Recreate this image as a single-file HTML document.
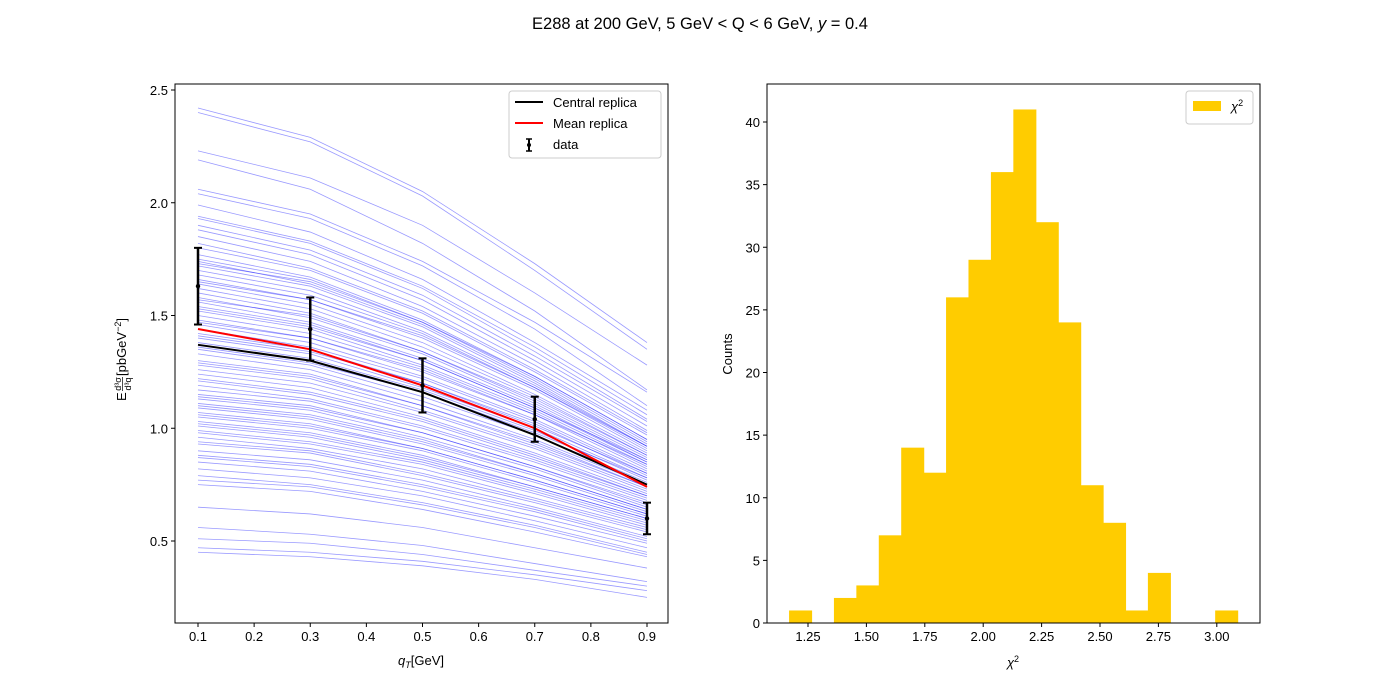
<!DOCTYPE html>
<html><head><meta charset="utf-8"><style>
html,body{margin:0;padding:0;background:#fff}
svg{display:block;font-family:"Liberation Sans","DejaVu Sans",sans-serif}
</style></head><body>
<svg id="fig" width="1400" height="700" viewBox="0 0 1400 700">
<rect width="1400" height="700" fill="#fff"/>
<text x="700" y="29" text-anchor="middle" font-size="16.5">E288  at 200 GeV, 5 GeV &lt; Q &lt; 6 GeV, <tspan font-style="italic">y</tspan> = 0.4</text>
<g id="left"></g>
<g id="right"></g>
</svg>
<script>
const qT = [0.1, 0.3, 0.5, 0.7, 0.9];
const replicas = [
[2.42,2.29,2.05,1.73,1.38],[2.40,2.27,2.03,1.70,1.35],[2.23,2.11,1.90,1.60,1.28],[2.19,2.06,1.82,1.52,1.17],
[2.06,1.95,1.74,1.47,1.16],[2.04,1.93,1.72,1.44,1.10],[1.99,1.87,1.66,1.38,1.08],[1.94,1.83,1.63,1.36,1.06],
[1.93,1.82,1.62,1.34,1.04],[1.90,1.79,1.59,1.32,1.03],[1.88,1.77,1.57,1.30,1.01],[1.85,1.74,1.54,1.28,0.99],
[1.82,1.71,1.52,1.26,0.98],[1.80,1.70,1.51,1.25,0.97],[1.77,1.67,1.48,1.23,0.95],[1.75,1.66,1.47,1.22,0.94],
[1.74,1.64,1.46,1.21,0.93],[1.72,1.63,1.45,1.20,0.92],[1.70,1.61,1.43,1.19,0.92],[1.68,1.59,1.42,1.18,0.91],
[1.66,1.57,1.40,1.17,0.90],[1.64,1.55,1.38,1.15,0.89],[1.62,1.53,1.36,1.14,0.88],[1.60,1.51,1.34,1.12,0.87],
[1.58,1.49,1.33,1.11,0.86],[1.56,1.47,1.31,1.10,0.85],[1.54,1.46,1.30,1.09,0.85],[1.52,1.44,1.28,1.08,0.84],
[1.50,1.42,1.27,1.07,0.83],[1.48,1.40,1.25,1.06,0.82],[1.46,1.38,1.23,1.04,0.81],[1.44,1.36,1.22,1.03,0.80],
[1.42,1.35,1.20,1.02,0.79],[1.40,1.33,1.18,1.00,0.78],[1.38,1.31,1.17,0.99,0.77],[1.35,1.28,1.14,0.97,0.76],
[1.33,1.26,1.12,0.95,0.75],[1.30,1.24,1.10,0.94,0.74],[1.28,1.22,1.08,0.92,0.73],[1.26,1.20,1.07,0.91,0.72],
[1.24,1.18,1.05,0.89,0.71],[1.21,1.15,1.03,0.87,0.70],[1.19,1.13,1.01,0.86,0.69],[1.17,1.12,1.00,0.85,0.68],
[1.15,1.10,0.98,0.83,0.66],[1.13,1.08,0.96,0.82,0.65],[1.11,1.06,0.95,0.80,0.64],[1.09,1.04,0.93,0.79,0.63],
[1.07,1.02,0.91,0.77,0.62],[1.05,1.00,0.90,0.76,0.61],[1.03,0.98,0.88,0.74,0.60],[1.01,0.96,0.86,0.73,0.59],
[0.98,0.93,0.84,0.71,0.57],[0.96,0.91,0.82,0.69,0.56],[0.93,0.89,0.79,0.67,0.54],[0.90,0.86,0.77,0.65,0.52],
[0.87,0.83,0.74,0.63,0.50],[0.85,0.81,0.72,0.61,0.49],[0.82,0.78,0.70,0.59,0.47],[0.79,0.75,0.67,0.57,0.45],
[0.77,0.74,0.66,0.56,0.44],[0.75,0.72,0.64,0.54,0.43],[0.65,0.62,0.56,0.47,0.38],[0.56,0.53,0.48,0.40,0.32],
[0.51,0.49,0.44,0.37,0.30],[0.47,0.45,0.41,0.35,0.28],[0.45,0.43,0.39,0.33,0.25],
[1.73,1.65,1.47,1.23,0.95],[1.65,1.57,1.41,1.18,0.92],[1.57,1.50,1.34,1.13,0.88],[1.53,1.45,1.30,1.09,0.86],
[1.47,1.40,1.26,1.06,0.84],[1.41,1.34,1.20,1.01,0.80],[1.36,1.29,1.16,0.98,0.78],[1.29,1.23,1.10,0.93,0.74],
[1.22,1.16,1.04,0.88,0.70],[1.14,1.09,0.98,0.83,0.67],[1.10,1.05,0.94,0.80,0.64],[1.06,1.01,0.91,0.77,0.62],
[1.02,0.97,0.87,0.74,0.60],[0.99,0.94,0.85,0.72,0.58],[0.94,0.90,0.80,0.68,0.55],[0.88,0.84,0.75,0.64,0.51]
];
const centralReplica = [1.37,1.30,1.16,0.97,0.75];
const meanReplica = [1.44,1.35,1.19,1.00,0.74];
const dataValues = [1.63,1.44,1.19,1.04,0.60];
const dataErrors = [0.17,0.14,0.12,0.10,0.07];
const leftXTicks = [0.1,0.2,0.3,0.4,0.5,0.6,0.7,0.8,0.9];
const leftYTicks = [0.5,1.0,1.5,2.0,2.5];
const binEdges = [1.169,1.265,1.361,1.457,1.553,1.649,1.745,1.841,1.937,2.033,2.129,2.225,2.321,2.417,2.513,2.609,2.705,2.801,2.897,2.993,3.089];
const binCounts = [1,0,2,3,7,14,12,26,29,36,41,32,24,11,8,1,4,0,0,1];
const rightXTicks = [1.25,1.50,1.75,2.00,2.25,2.50,2.75,3.00];
const rightYTicks = [0,5,10,15,20,25,30,35,40];

const NS='http://www.w3.org/2000/svg';
function mk(tag,attrs,parent){const e=document.createElementNS(NS,tag);for(const k in attrs)e.setAttribute(k,attrs[k]);parent.appendChild(e);return e;}

const L=document.getElementById('left');
const lx=v=>198+(v-0.1)*561.25;
const ly=v=>541-(v-0.5)*225.5;
const lclip=mk('clipPath',{id:'lclip'},L);mk('rect',{x:175,y:84,width:493,height:539},lclip);
const lines=mk('g',{'clip-path':'url(#lclip)'},L);
replicas.forEach((r)=>{
  const p=mk('polyline',{points:r.map((v,i)=>lx(qT[i])+','+ly(v)).join(' '),fill:'none',stroke:'#0000ff','stroke-opacity':0.4,'stroke-width':0.8},lines);
  
  
});
const cen=mk('polyline',{points:centralReplica.map((v,i)=>lx(qT[i])+','+ly(v)).join(' '),fill:'none',stroke:'#000','stroke-width':2},lines);


const mean=mk('polyline',{points:meanReplica.map((v,i)=>lx(qT[i])+','+ly(v)).join(' '),fill:'none',stroke:'#f00','stroke-width':2},lines);


dataValues.forEach((v,i)=>{
  const g=mk('g',{},lines);
  
  
  const x=lx(qT[i]),y1=ly(v+dataErrors[i]),y2=ly(v-dataErrors[i]);
  mk('line',{x1:x,x2:x,y1:y1,y2:y2,stroke:'#000','stroke-width':2.5},g);
  mk('line',{x1:x-4,x2:x+4,y1:y1,y2:y1,stroke:'#000','stroke-width':2},g);
  mk('line',{x1:x-4,x2:x+4,y1:y2,y2:y2,stroke:'#000','stroke-width':2},g);
  mk('circle',{cx:x,cy:ly(v),r:2.2,fill:'#000'},g);
});
mk('rect',{x:175,y:84,width:493,height:539,fill:'none',stroke:'#000','stroke-width':1},L);
leftXTicks.forEach(t=>{const x=lx(t);mk('line',{x1:x,x2:x,y1:623,y2:627,stroke:'#000'},L);
  const tx=mk('text',{x:x,y:641,'text-anchor':'middle','font-size':13},L);tx.textContent=t.toFixed(1);
  });
leftYTicks.forEach(t=>{const y=ly(t);mk('line',{x1:171,x2:175,y1:y,y2:y,stroke:'#000'},L);
  const tx=mk('text',{x:168,y:y+5,'text-anchor':'end','font-size':13},L);tx.textContent=t.toFixed(1);
  });
const xl=mk('text',{x:421,y:665,'text-anchor':'middle','font-size':13},L);
xl.innerHTML='<tspan font-style="italic">q</tspan><tspan font-size="9" dy="3" font-style="italic">T</tspan><tspan dy="-3">[GeV]</tspan>';

const yg=mk('g',{transform:'translate(126,353) rotate(-90)'},L);

const e1=mk('text',{x:-48,y:0,'font-size':13},yg);e1.textContent='E';
const e2=mk('text',{x:-31,y:-5,'font-size':9,'text-anchor':'middle'},yg);e2.textContent='d³σ';
mk('line',{x1:-38,x2:-24,y1:-3.5,y2:-3.5,stroke:'#000','stroke-width':0.7},yg);
const e3=mk('text',{x:-31,y:5,'font-size':9,'text-anchor':'middle'},yg);e3.textContent='d³q';
const e4=mk('text',{x:-23,y:0,'font-size':13},yg);e4.innerHTML='[pbGeV<tspan font-size="9" dy="-5">−2</tspan><tspan dy="5">]</tspan>';
const lg=mk('g',{},L);
mk('rect',{x:509,y:91,width:152,height:67,rx:3,fill:'#fff','fill-opacity':0.8,stroke:'#ccc'},lg);
mk('line',{x1:515,x2:543,y1:102,y2:102,stroke:'#000','stroke-width':2},lg);
mk('line',{x1:515,x2:543,y1:123,y2:123,stroke:'#f00','stroke-width':2},lg);
mk('line',{x1:529,x2:529,y1:139,y2:151,stroke:'#000','stroke-width':2},lg);
mk('line',{x1:526,x2:532,y1:139,y2:139,stroke:'#000','stroke-width':1.5},lg);
mk('line',{x1:526,x2:532,y1:151,y2:151,stroke:'#000','stroke-width':1.5},lg);
mk('circle',{cx:529,cy:145,r:2,fill:'#000'},lg);
[['Central replica',107],['Mean replica',128],['data',149]].forEach(([t,y])=>{const e=mk('text',{x:553,y:y,'font-size':13},lg);e.textContent=t;});

const R=document.getElementById('right');
const rx=v=>808+(v-1.25)*233.6;
const ry=v=>623-v*12.525;
binCounts.forEach((c,i)=>{if(!c)return;
  const b=mk('rect',{x:rx(binEdges[i]),y:ry(c),width:rx(binEdges[i+1])-rx(binEdges[i])+0.6,height:ry(0)-ry(c),fill:'#ffcc00'},R);
  });
mk('rect',{x:767,y:84,width:493,height:539,fill:'none',stroke:'#000','stroke-width':1},R);
rightXTicks.forEach(t=>{const x=rx(t);mk('line',{x1:x,x2:x,y1:623,y2:627,stroke:'#000'},R);
  const tx=mk('text',{x:x,y:641,'text-anchor':'middle','font-size':13},R);tx.textContent=t.toFixed(2);
  });
rightYTicks.forEach(t=>{const y=ry(t);mk('line',{x1:763,x2:767,y1:y,y2:y,stroke:'#000'},R);
  const tx=mk('text',{x:760,y:y+5,'text-anchor':'end','font-size':13},R);tx.textContent=t;
  });
const rxl=mk('text',{x:1013,y:667,'text-anchor':'middle','font-size':13},R);
rxl.innerHTML='<tspan font-style="italic">χ</tspan><tspan font-size="9" dy="-5">2</tspan>';

const ryl=mk('text',{transform:'translate(732,354) rotate(-90)','text-anchor':'middle','font-size':13},R);
ryl.textContent='Counts';

const rlg=mk('g',{},R);
mk('rect',{x:1186,y:91,width:67,height:33,rx:3,fill:'#fff','fill-opacity':0.8,stroke:'#ccc'},rlg);
mk('rect',{x:1193,y:101,width:28,height:10,fill:'#ffcc00'},rlg);
const lt=mk('text',{x:1231,y:111,'font-size':13},rlg);
lt.innerHTML='<tspan font-style="italic">χ</tspan><tspan font-size="9" dy="-5">2</tspan>';
</script>
</body></html>
